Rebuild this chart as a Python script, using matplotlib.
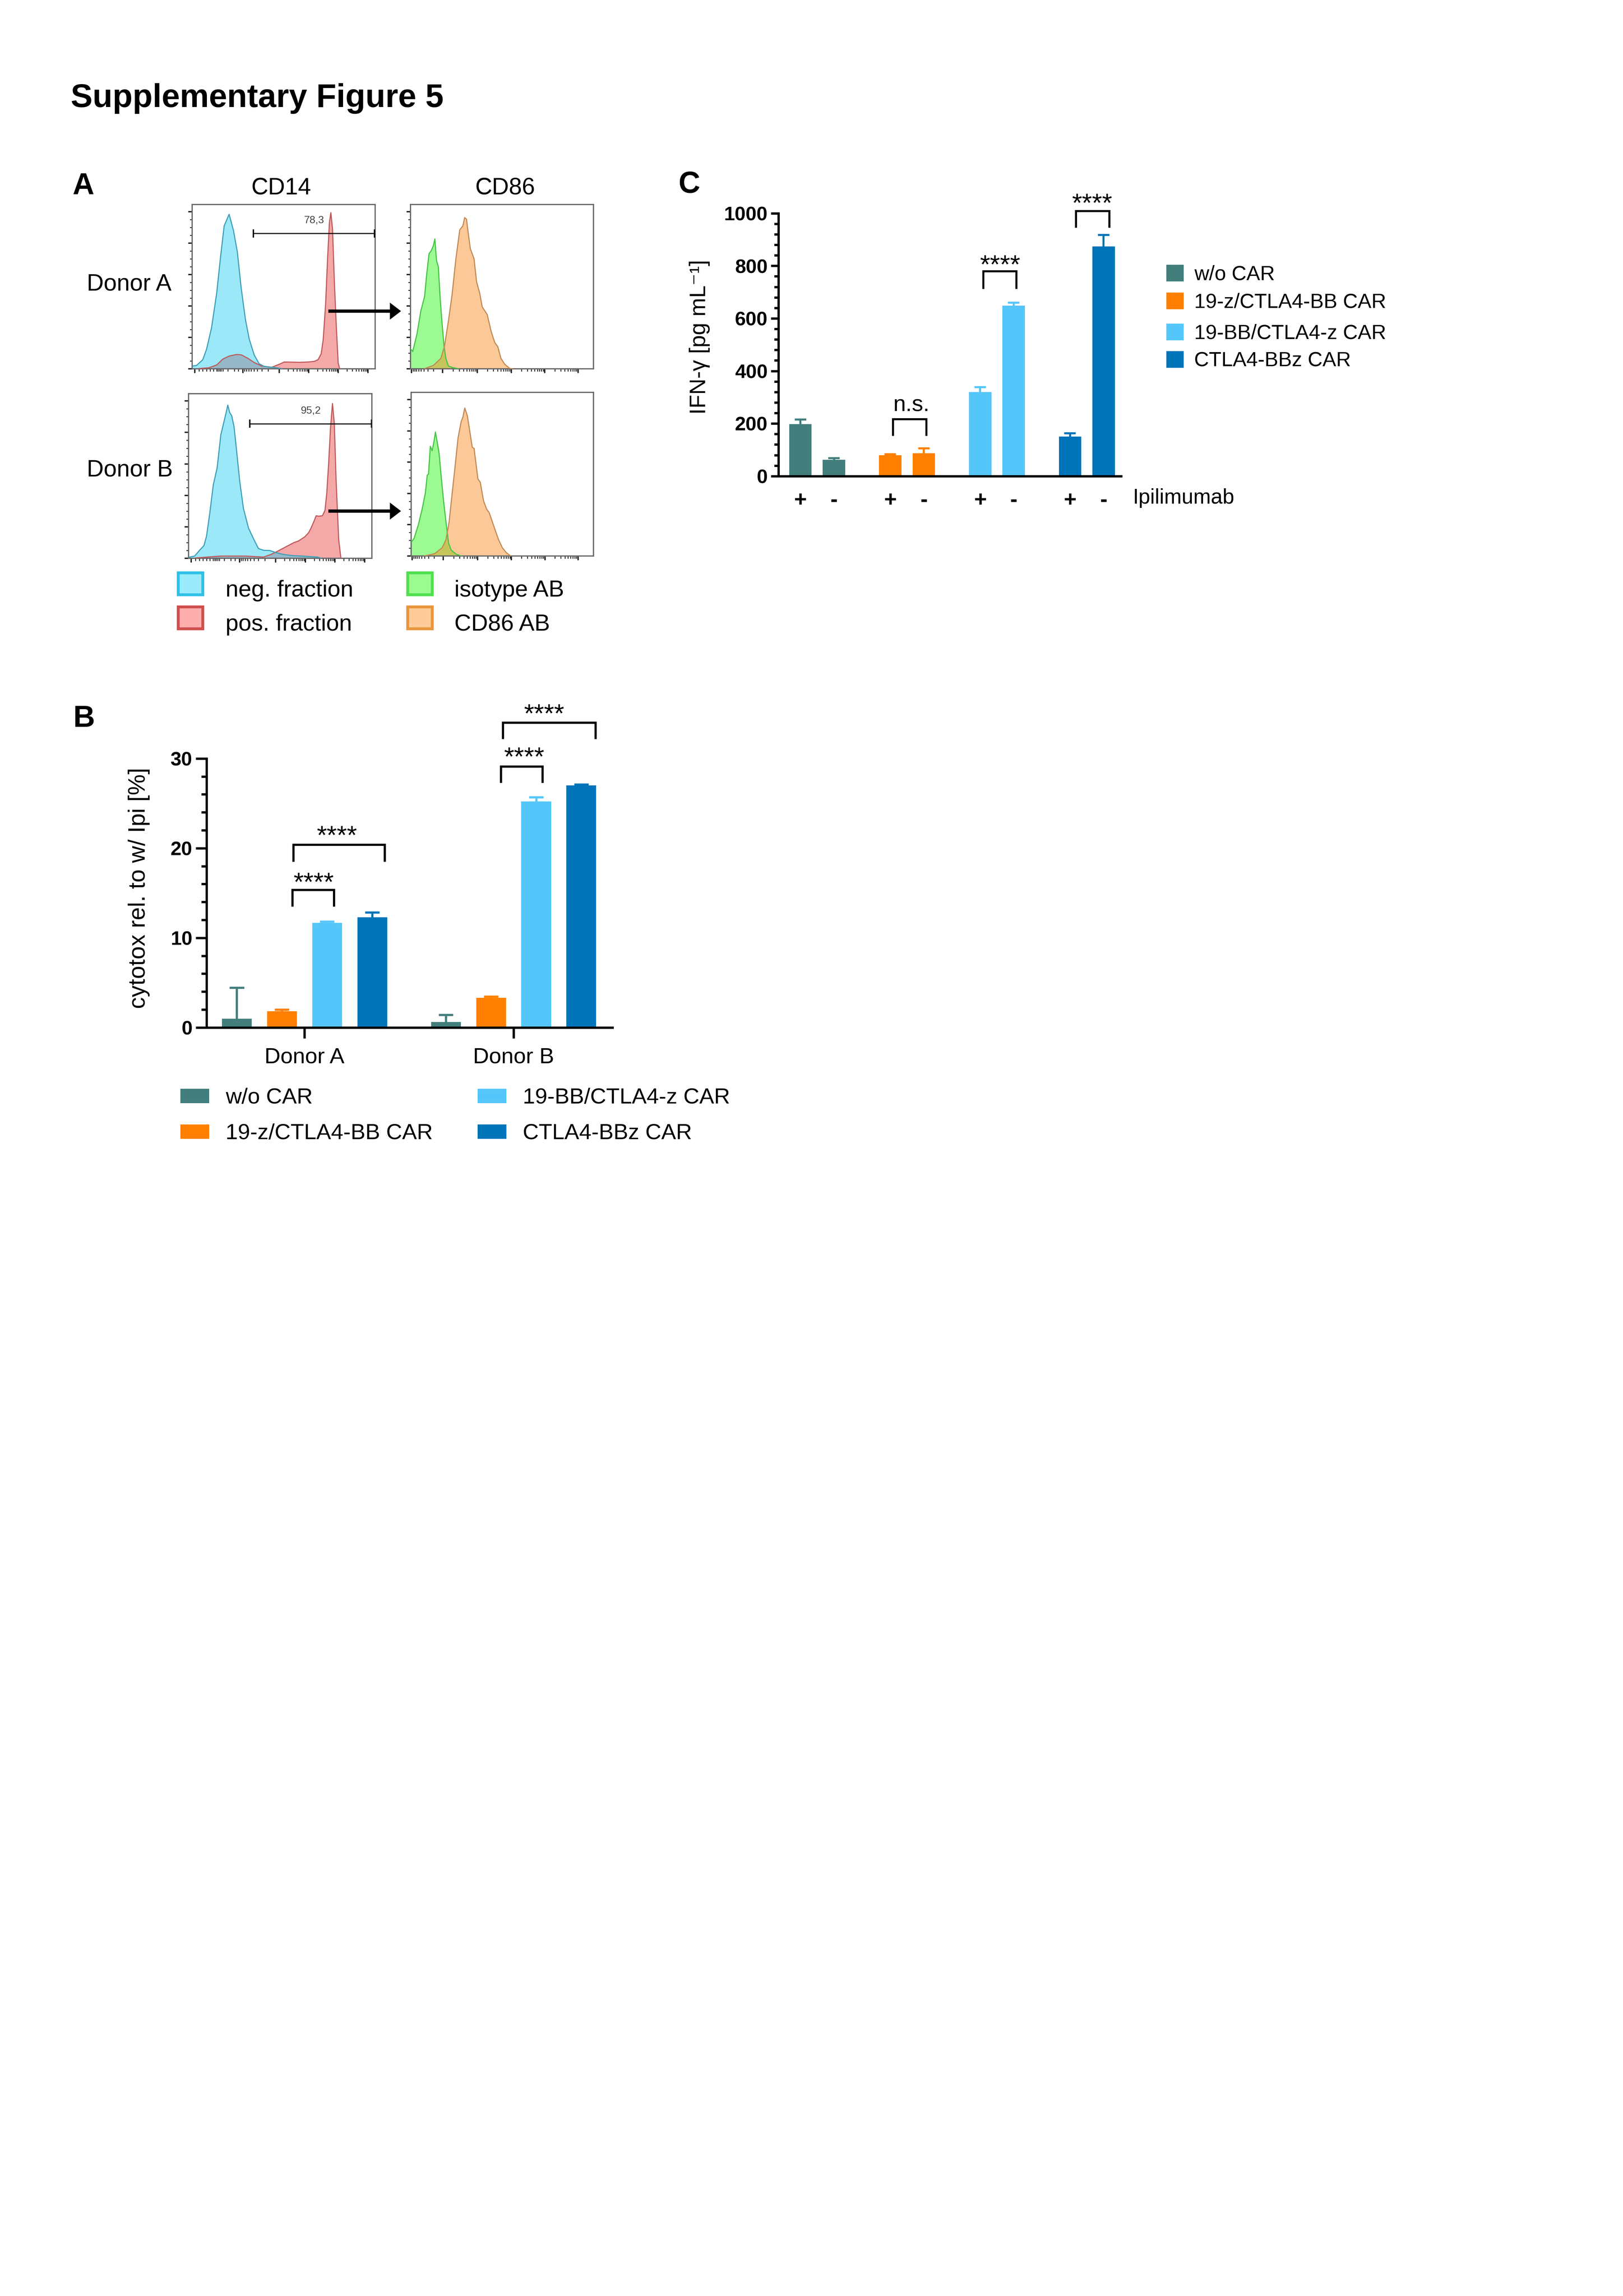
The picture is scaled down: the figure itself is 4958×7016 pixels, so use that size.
import numpy as np
import matplotlib
matplotlib.use('Agg')
import matplotlib.pyplot as plt
from matplotlib.patches import Rectangle, FancyArrow
from matplotlib.ticker import FixedLocator, NullFormatter

plt.rcParams['font.family'] = ['Liberation Sans', 'DejaVu Sans']

W, H = 4958, 7016
DPI = 600

# ------------------------------------------------------------------ data
car_types = ['w/o CAR', '19-z/CTLA4-BB CAR', '19-BB/CTLA4-z CAR', 'CTLA4-BBz CAR']
car_colors = ['#427E7C', '#FF8000', '#55C6FA', '#0074B9']

# Panel C: IFN-gamma with (+) / without (-) Ipilimumab
ipi_labels = ['+', '-']
ifng_with_ipi = [198, 79, 320, 151]
ifng_without_ipi = [62, 87, 649, 874]
ifng_with_ipi_sd = [17, 4, 19, 12]
ifng_without_ipi_sd = [6, 18, 11, 43]
c_yticks = [0, 200, 400, 600, 800, 1000]
c_sig_labels = ['n.s.', '****', '****']

# Panel B: cytotoxicity relative to w/ Ipi
donors = ['Donor A', 'Donor B']
cytotox_donor_a = [0.98, 1.82, 11.66, 12.30]
cytotox_donor_b = [0.61, 3.30, 25.21, 27.00]
cytotox_sd_a = [3.47, 0.17, 0.17, 0.54]
cytotox_sd_b = [0.81, 0.17, 0.47, 0.10]
b_yticks = [0, 10, 20, 30]

# Panel A: flow histograms (x: display channel 0-100, y: % of max)
hist_markers = ['CD14', 'CD86']
cd14_a_neg_x = [0, 2.4, 5.8, 7.9, 10.6, 13.4, 15.4, 17.5, 20.2, 22.6, 24.7, 26.7, 29.1, 31.2, 33.9, 36.6, 39.4, 43.5, 46.2, 49]
cd14_a_neg_y = [1.6, 2, 5.5, 12, 25, 46, 67, 87, 94, 84, 71, 50, 30, 18, 8.4, 3, 1.4, 0.9, 0.6, 0]
cd14_a_pos_x = [3.8, 9.2, 13.4, 16.8, 20.2, 24.3, 27, 30.5, 33.9, 38, 43.5, 47.6, 50.3, 55.1, 58.6, 63.4, 66.8, 68.8, 70.5, 71.6, 72.9, 74, 75, 75.8, 76.7, 77.7, 78.8, 79.8, 80.6]
cd14_a_pos_y = [0.1, 0.6, 2.3, 5.9, 7.7, 8.7, 8.4, 6.3, 3.8, 1.6, 0.9, 2.7, 4.1, 4.0, 3.9, 4.1, 4.5, 5.5, 9.1, 17.6, 39, 67, 89, 95, 85, 53, 25, 3.4, 0]
cd86_a_iso_x = [0.1, 1.2, 3.5, 5.6, 7.7, 8.7, 10.1, 11.4, 12.5, 13.3, 14.2, 15.2, 16.2, 17.2, 18.3, 19.3, 20.7, 23.4, 26.2]
cd86_a_iso_y = [12, 10.5, 21, 35, 44, 56, 70, 72, 75, 79, 66, 62, 43, 28, 14, 6.3, 1.6, 0.6, 0]
cd86_a_ab_x = [7.7, 12.5, 16.6, 18.6, 20.7, 22.7, 24.8, 26.9, 28.6, 29.6, 30.6, 31.6, 32.7, 34.7, 36.1, 37.8, 39.2, 41.9, 44, 46, 47.7, 49.4, 51.5, 54.2, 55.6]
cd86_a_ab_y = [0.1, 2, 6.3, 14, 29, 45, 67, 84.5, 87, 92, 91, 82, 73, 67, 53, 46, 37.6, 33, 23, 16, 13.4, 6.3, 2.7, 0.2, 0]
cd14_b_neg_x = [0, 3.3, 6, 8.4, 9.8, 11.5, 13.5, 15.6, 17.6, 19, 20.4, 21.4, 22.4, 23.5, 24.8, 25.8, 27.9, 29.9, 32.7, 35.4, 38.1, 40.9, 44.3, 47.7, 51.8, 56.6, 62.1, 70.3, 72.3]
cd14_b_neg_y = [0.6, 1.3, 4.8, 7.7, 13.4, 26.8, 44.6, 55, 75, 81.5, 88, 93, 88.6, 86.6, 80, 69.6, 46.9, 30.4, 18.3, 11.9, 5.9, 4.8, 4.7, 3.4, 2.3, 1.6, 1.3, 0.7, 0]
cd14_b_pos_x = [4, 17.6, 31.3, 40.9, 45, 49, 53.2, 57.3, 60, 63.4, 65.5, 66.8, 68.2, 69.6, 70.9, 73, 74.4, 75.4, 76.4, 77.4, 78.5, 79.5, 80.5, 81.9, 83.1]
cd14_b_pos_y = [0.2, 1.3, 1.3, 0.7, 2.3, 4.5, 7, 9.4, 10.5, 13, 15.5, 18.3, 21.9, 25.8, 25.5, 25.8, 29, 39.6, 57.4, 78.7, 94, 82, 46.7, 11.2, 0]
cd86_b_iso_x = [0.2, 1.6, 4, 6, 7.8, 8.8, 9.5, 10.5, 11.5, 12.4, 13.3, 14.3, 15.3, 16.4, 17.7, 19.1, 20.5, 21.9, 24.6, 27.4]
cd86_b_iso_y = [8.6, 10.7, 19.3, 28.6, 38.6, 49.3, 50, 67, 64.3, 69.3, 75.7, 69.3, 62.9, 49.3, 34.3, 20.7, 7.9, 3.6, 1.1, 0]
cd86_b_ab_x = [7.4, 12.9, 17, 19.1, 20.8, 22.5, 23.9, 25.7, 27.4, 28.4, 29.4, 30.8, 32.2, 33.5, 34.5, 36.6, 37.9, 39.7, 41.4, 42.8, 45.2, 47.9, 50, 52.1, 54.5]
cd86_b_ab_y = [0, 1.4, 5, 10, 20.7, 38.6, 52.9, 72.1, 82, 85, 90.4, 85.7, 75.7, 66.4, 65.7, 47.1, 45, 33.6, 28.6, 26.4, 18.6, 10, 5, 2.1, 0]
gate_values = ['78,3', '95,2']
hist_legend_left = ['neg. fraction', 'pos. fraction']
hist_legend_right = ['isotype AB', 'CD86 AB']

# ------------------------------------------------------------------ figure
fig = plt.figure(figsize=((W + 0.3) / DPI, (H + 0.3) / DPI), dpi=DPI)


def R(x0, y0, x1, y1):
    return [x0 / W, 1 - y1 / H, (x1 - x0) / W, (y1 - y0) / H]


ov = fig.add_axes([0, 0, 1, 1], zorder=10)
ov.set_xlim(0, W)
ov.set_ylim(H, 0)
ov.axis('off')
ov.patch.set_alpha(0)

ov.text(216, 327, 'Supplementary Figure 5', fontsize=12.0, fontweight='bold', va='baseline', ha='left')
ov.text(222, 593, 'A', fontsize=11, fontweight='bold', va='baseline')
ov.text(224, 2221, 'B', fontsize=11, fontweight='bold', va='baseline')
ov.text(2072, 589, 'C', fontsize=11, fontweight='bold', va='baseline')

# ------------------------------------------------------------------ panel A
NEG_FILL, NEG_EDGE = (33 / 255, 204 / 255, 240 / 255), '#3E9FB6'
POS_FILL, POS_EDGE = '#F4A8A8', '#C05A5A'
ISO_FILL, ISO_EDGE = '#9BFA91', '#45C445'
AB_FILL, AB_EDGE = (251 / 255, 133 / 255, 27 / 255), '#C08A55'


def minors_between(majors, reverse_first):
    out = []
    for i in range(len(majors) - 1):
        a, b = majors[i], majors[i + 1]
        for k in range(2, 10):
            if i == 0 and reverse_first:
                out.append(b - (b - a) * np.log10(k))
            else:
                out.append(a + (b - a) * np.log10(k))
    return out


def hist_axes(rect, majors, minors):
    ax = fig.add_axes(R(*rect))
    ax.set_xlim(0, 100)
    ax.set_ylim(0, 100)
    for s in ax.spines.values():
        s.set_color('#666666')
        s.set_linewidth(0.45)
    ax.xaxis.set_major_locator(FixedLocator(majors))
    ax.xaxis.set_minor_locator(FixedLocator(minors))
    ax.yaxis.set_major_locator(FixedLocator(list(np.arange(0, 100, 19.1))))
    ax.yaxis.set_minor_locator(FixedLocator(list(np.arange(0, 100, 4.775))))
    ax.xaxis.set_major_formatter(NullFormatter())
    ax.yaxis.set_major_formatter(NullFormatter())
    ax.tick_params(which='major', direction='out', length=1.5, width=0.5, color='#222222')
    ax.tick_params(which='minor', direction='out', length=0.9, width=0.35, color='#333333')
    return ax


cd14_majors = [1.5, 27.8, 47.5, 63.7, 79.8, 96.0]
cd14_minors = [3.8, 5.8, 7.9, 9.9, 11.6, 13.4, 14.2, 15.0, 15.8, 16.8, 19.5, 23.0, 25.3] + \
    minors_between(cd14_majors[1:], True)
cd86_majors = [0.6, 17.6, 36.4, 55.0, 73.4, 91.5]
cd86_minors = minors_between(cd86_majors, True)


def draw_pair(ax, under_x, under_y, under_fill, under_edge, over_x, over_y, over_fill, over_edge):
    ax.fill_between(under_x, under_y, 0, color=under_fill, lw=0, zorder=1)
    ax.fill_between(over_x, over_y, 0, color=over_fill, alpha=0.45, lw=0, zorder=2)
    ax.plot(under_x, under_y, color=under_edge, lw=0.4, zorder=3)
    ax.plot(over_x, over_y, color=over_edge, lw=0.4, zorder=3)


def gate(ax, x0, x1, y, label):
    ax.plot([x0, x1], [y, y], color='k', lw=0.4, zorder=4)
    for xx in (x0, x1):
        ax.plot([xx, xx], [y - 2.1, y + 2.1], color='k', lw=0.5, zorder=4)
    ax.text((x0 + x1) / 2, y + 7.8, label, fontsize=3.8, color='#444444', ha='center', va='center')


ax_tl = hist_axes((587, 625, 1146, 1127), cd14_majors, cd14_minors)
draw_pair(ax_tl, cd14_a_pos_x, cd14_a_pos_y, POS_FILL, POS_EDGE, cd14_a_neg_x, cd14_a_neg_y, NEG_FILL, NEG_EDGE)
gate(ax_tl, 33.4, 99.7, 82.4, gate_values[0])

ax_tr = hist_axes((1254, 625, 1813, 1127), cd86_majors, cd86_minors)
draw_pair(ax_tr, cd86_a_iso_x, cd86_a_iso_y, ISO_FILL, ISO_EDGE, cd86_a_ab_x, cd86_a_ab_y, AB_FILL, AB_EDGE)

ax_bl = hist_axes((576, 1203, 1136, 1706), cd14_majors, cd14_minors)
draw_pair(ax_bl, cd14_b_pos_x, cd14_b_pos_y, POS_FILL, POS_EDGE, cd14_b_neg_x, cd14_b_neg_y, NEG_FILL, NEG_EDGE)
gate(ax_bl, 33.4, 99.8, 81.7, gate_values[1])

ax_br = hist_axes((1256, 1199, 1813, 1699), cd86_majors, cd86_minors)
draw_pair(ax_br, cd86_b_iso_x, cd86_b_iso_y, ISO_FILL, ISO_EDGE, cd86_b_ab_x, cd86_b_ab_y, AB_FILL, AB_EDGE)

ov.text(859, 593, hist_markers[0], fontsize=8.6, ha='center', va='baseline')
ov.text(1543, 593, hist_markers[1], fontsize=8.6, ha='center', va='baseline')
ov.text(265, 887, donors[0], fontsize=8.6, ha='left', va='baseline')
ov.text(265, 1455, donors[1], fontsize=8.6, ha='left', va='baseline')

for ya in (951, 1562):
    ov.add_patch(FancyArrow(1003, ya, 222, 0, width=10, head_width=52, head_length=34,
                            length_includes_head=True, color='k', lw=0))

leg_a = [(543.5, 1750.5, '#9CEBFD', '#2EC0E6', hist_legend_left[0], 689, 1823),
         (543.5, 1854.5, '#FFAEAE', '#D04E4E', hist_legend_left[1], 689, 1927),
         (1244.5, 1750.5, '#9BFB90', '#50E050', hist_legend_right[0], 1388, 1823),
         (1244.5, 1854.5, '#FFCC99', '#E8963C', hist_legend_right[1], 1388, 1927)]
for x0, y0, fc, ec, lab, tx, ty in leg_a:
    ov.add_patch(Rectangle((x0, y0), 75, 67, facecolor=fc, edgecolor=ec, lw=1.05))
    ov.text(tx, ty, lab, fontsize=8.5, va='baseline', ha='left')

# ------------------------------------------------------------------ panel C
axc = fig.add_axes(R(2378, 652, 3425, 1455))
GROUP_GAP_C, PAIR_STEP_C, BAR_W_C = 2.6, 0.97, 0.65
PX_PER_UNIT_C = 105.6
axc.set_xlim(-0.634, -0.634 + (3425 - 2378) / PX_PER_UNIT_C)
axc.set_ylim(0, 1000)
c_x_plus = [g * GROUP_GAP_C for g in range(len(car_types))]
c_x_minus = [g * GROUP_GAP_C + PAIR_STEP_C for g in range(len(car_types))]


def bars_with_err(ax, xs, vals, sds, colors, width, cap_half, lw):
    ax.bar(xs, vals, width=width, color=colors, lw=0, zorder=2)
    for x, v, s, c in zip(xs, vals, sds, colors):
        ax.plot([x, x], [v, v + s], color=c, lw=lw, zorder=1, solid_capstyle='butt')
        ax.plot([x - cap_half, x + cap_half], [v + s, v + s], color=c, lw=lw, zorder=1,
                solid_capstyle='butt')


bars_with_err(axc, c_x_plus, ifng_with_ipi, ifng_with_ipi_sd, car_colors, BAR_W_C, 0.165, 0.75)
bars_with_err(axc, c_x_minus, ifng_without_ipi, ifng_without_ipi_sd, car_colors, BAR_W_C, 0.165, 0.75)

for sp in ('top', 'right'):
    axc.spines[sp].set_visible(False)
for sp in ('left', 'bottom'):
    axc.spines[sp].set_linewidth(0.85)
axc.yaxis.set_major_locator(FixedLocator(c_yticks))
axc.yaxis.set_minor_locator(FixedLocator(list(np.arange(0, 1001, 40))))
axc.set_yticklabels([str(t) for t in c_yticks], fontsize=7.2, fontweight='bold')
axc.tick_params(axis='y', which='major', length=2.8, width=0.85, pad=1.2)
axc.tick_params(axis='y', which='minor', length=1.6, width=0.85)
axc.set_xticks([])

for xp, xm in zip(c_x_plus, c_x_minus):
    axc.annotate(ipi_labels[0], (xp, 0), xytext=(0, -11), textcoords='offset points',
                 ha='center', va='baseline', fontsize=8, fontweight='bold', annotation_clip=False)
    axc.annotate(ipi_labels[1], (xm, 0), xytext=(0, -11), textcoords='offset points',
                 ha='center', va='baseline', fontsize=8, fontweight='bold', annotation_clip=False)
ov.text(3460, 1539, 'Ipilimumab', fontsize=7.7, va='baseline', ha='left')


def bracket(ax, x0, x1, ytop, yleg, lw=0.75):
    ax.plot([x0, x0, x1, x1], [yleg, ytop, ytop, yleg], color='k', lw=lw, clip_on=False,
            solid_joinstyle='miter', solid_capstyle='butt', zorder=5)


STAR_FS = 9.5


def stars(ax, x, yc, label, fs=STAR_FS):
    ax.annotate(label, (x, yc), xytext=(0, -0.58 * fs), textcoords='offset points',
                ha='center', va='baseline', fontsize=fs, annotation_clip=False)


c_brackets = [(2.68, 3.64, 217, 153), (5.29, 6.25, 779, 712), (7.97, 8.94, 1009, 945)]
for (x0, x1, yt, yl) in c_brackets:
    bracket(axc, x0, x1, yt, yl)
axc.text(3.21, 247, c_sig_labels[0], fontsize=8.3, ha='center', va='baseline', clip_on=False)
stars(axc, 5.78, 830, c_sig_labels[1])
stars(axc, 8.44, 1064, c_sig_labels[2])

ov.text(2137, 1030, 'IFN-γ [pg mL⁻¹]', rotation=90, fontsize=8.2, ha='center', va='center')

c_leg_rows = [835, 920, 1015, 1099]
for yc, lab, col in zip(c_leg_rows, car_types, car_colors):
    ov.add_patch(Rectangle((3563, yc - 25.5), 53, 51, facecolor=col, lw=0))
    ov.text(3648, yc + 20, lab, fontsize=7.5, va='baseline', ha='left')

# ------------------------------------------------------------------ panel B
axb = fig.add_axes(R(631, 2318, 1871, 3140))
GROUP_B_CENTERS = [0.0, 4.63]
BAR_OFFSETS_B = [-1.5, -0.5, 0.5, 1.5]
BAR_W_B = 0.66
axb.set_xlim(-2.17, 6.82)
axb.set_ylim(0, 30)
for gc, vals, sds in zip(GROUP_B_CENTERS, [cytotox_donor_a, cytotox_donor_b], [cytotox_sd_a, cytotox_sd_b]):
    xs = [gc + o for o in BAR_OFFSETS_B]
    bars_with_err(axb, xs, vals, sds, car_colors, BAR_W_B, 0.16, 0.8)

for sp in ('top', 'right'):
    axb.spines[sp].set_visible(False)
for sp in ('left', 'bottom'):
    axb.spines[sp].set_linewidth(0.85)
axb.yaxis.set_major_locator(FixedLocator(b_yticks))
axb.yaxis.set_minor_locator(FixedLocator(list(np.arange(0, 31, 2))))
axb.set_yticklabels([str(t) for t in b_yticks], fontsize=7.2, fontweight='bold')
axb.tick_params(axis='y', which='major', length=4, width=0.85, pad=1.2)
axb.tick_params(axis='y', which='minor', length=1.9, width=0.85)
axb.set_xticks(GROUP_B_CENTERS)
axb.set_xticklabels(donors, fontsize=8.1)
axb.tick_params(axis='x', which='major', length=4, width=0.85, pad=3.3)

b_brackets = [(-0.272, 0.650, 15.37, 13.48), (-0.252, 1.777, 20.40, 18.50),
              (4.350, 5.270, 29.10, 27.30), (4.390, 6.440, 34.00, 32.20)]
for (x0, x1, yt, yl) in b_brackets:
    bracket(axb, x0, x1, yt, yl, lw=0.8)
for (x, yc) in [(0.204, 16.92), (0.718, 22.14), (4.864, 30.90), (5.310, 35.73)]:
    stars(axb, x, yc, '****')

ov.text(424, 2714, 'cytotox rel. to w/ Ipi [%]', rotation=90, fontsize=8.6, ha='center', va='center')

b_leg = [(551, 3349), (551, 3458), (1459, 3349), (1459, 3458)]
for (x0, yc), lab, col in zip(b_leg, car_types, car_colors):
    ov.add_patch(Rectangle((x0, yc - 22), 88, 44, facecolor=col, lw=0))
    ov.text(x0 + 138, yc + 23, lab, fontsize=8.1, va='baseline', ha='left')

fig.savefig('out.png', dpi=DPI, facecolor='white')
